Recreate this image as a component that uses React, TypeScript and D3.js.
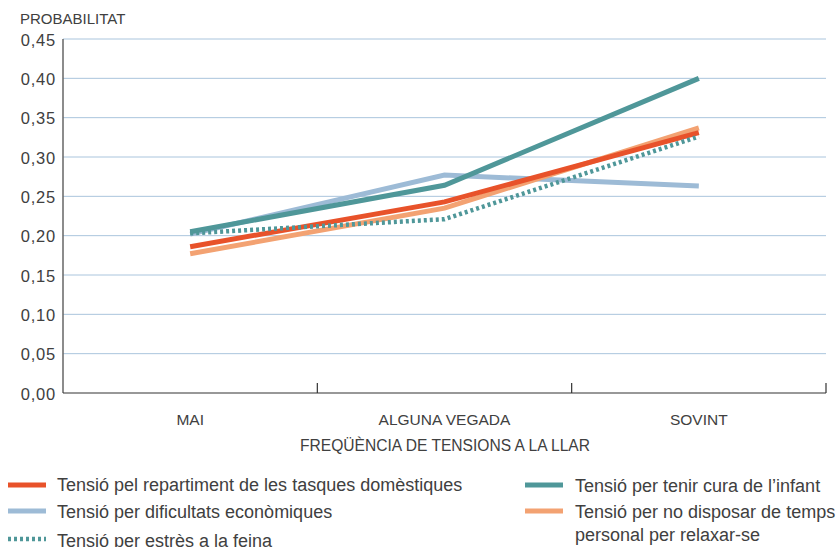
import React from "react";
import * as d3 from "d3";

const categories = ["MAI", "ALGUNA VEGADA", "SOVINT"];
const yTicks = [0, 0.05, 0.1, 0.15, 0.2, 0.25, 0.3, 0.35, 0.4, 0.45];

const seriesNames = [
  "Tensió per dificultats econòmiques",
  "Tensió per no disposar de temps personal per relaxar-se",
  "Tensió pel repartiment de les tasques domèstiques",
  "Tensió per estrès a la feina",
  "Tensió per tenir cura de l’infant",
];
const economiques = [0.202, 0.277, 0.263];
const tempsPersonal = [0.177, 0.235, 0.337];
const repartiment = [0.186, 0.243, 0.331];
const estres = [0.203, 0.221, 0.326];
const infant = [0.205, 0.264, 0.4];

const series = [
  { name: seriesNames[0], values: economiques, color: "#9dbbd6", dash: "" },
  { name: seriesNames[1], values: tempsPersonal, color: "#f3a272", dash: "" },
  { name: seriesNames[2], values: repartiment, color: "#e8522a", dash: "" },
  { name: seriesNames[3], values: estres, color: "#4f9799", dash: "3,3" },
  { name: seriesNames[4], values: infant, color: "#4f9799", dash: "" },
];

const W = 840;
const H = 547;
const left = 63;
const right = 826;
const top = 39;
const bottom = 393;
const FONT = "'Liberation Sans', Arial, sans-serif";
const TXT = "#404040";

export default function App() {
  const x = d3.scaleBand<string>().domain(categories).range([left, right]).paddingInner(0).paddingOuter(0);
  const y = d3.scaleLinear().domain([0, 0.45]).range([bottom, top]);
  const cx = (c: string) => (x(c) as number) + x.bandwidth() / 2;
  const line = d3
    .line<number>()
    .x((_, i) => cx(categories[i]))
    .y((d) => y(d));

  const legendLeft = [
    { s: series[2], lines: ["Tensió pel repartiment de les tasques domèstiques"], y: 485, by: [491] },
    { s: series[0], lines: ["Tensió per dificultats econòmiques"], y: 511, by: [517.5] },
    { s: series[3], lines: ["Tensió per estrès a la feina"], y: 539, by: [546.5] },
  ];
  const legendRight = [
    { s: series[4], lines: ["Tensió per tenir cura de l’infant"], y: 485, by: [491.5] },
    { s: series[1], lines: ["Tensió per no disposar de temps", "personal per relaxar-se"], y: 511, by: [518, 541] },
  ];

  const legendItem = (it: any, sx: number, tx: number, key: string) => (
    <g key={key}>
      <line
        x1={sx}
        x2={sx + 38}
        y1={it.y}
        y2={it.y}
        stroke={it.s.color}
        strokeWidth={it.s.dash ? 4.5 : 5}
        strokeDasharray={it.s.dash || undefined}
      />
      {it.lines.map((t: string, i: number) => (
        <text key={i} x={tx} y={it.by[i]} fontSize={18} fill={TXT} fontFamily={FONT}>
          {t}
        </text>
      ))}
    </g>
  );

  return (
    <svg width={W} height={H} style={{ position: "absolute", left: 0, top: 0, background: "#fff" }}>
      <text x={20} y={24} fontSize={15} fill={TXT} fontFamily={FONT}>
        PROBABILITAT
      </text>
      {yTicks.map((t) => (
        <g key={t}>
          {t > 0 && <line x1={left} x2={right} y1={y(t)} y2={y(t)} stroke="#aac5dd" strokeWidth={1} />}
          <text
            x={56}
            y={y(t) + 6.5}
            textAnchor="end"
            fontSize={16.5}
            letterSpacing={0.8}
            fill={TXT}
            fontFamily={FONT}
          >
            {t.toFixed(2).replace(".", ",")}
          </text>
        </g>
      ))}
      <line x1={left} x2={left} y1={top} y2={bottom} stroke="#666" strokeWidth={1.5} />
      <line x1={left} x2={right} y1={bottom} y2={bottom} stroke="#333" strokeWidth={1.2} />
      {[...categories.slice(1).map((c) => x(c) as number), right].map((tx, i) => (
        <line key={i} x1={tx} x2={tx} y1={bottom - 10} y2={bottom} stroke="#333" strokeWidth={1.2} />
      ))}
      {categories.map((c) => (
        <text key={c} x={cx(c)} y={424.5} textAnchor="middle" fontSize={15.5} fill={TXT} fontFamily={FONT}>
          {c}
        </text>
      ))}
      <text x={445} y={450.5} textAnchor="middle" fontSize={15.6} fill={TXT} fontFamily={FONT}>
        FREQÜÈNCIA DE TENSIONS A LA LLAR
      </text>
      {series.map((s) => (
        <path
          key={s.name}
          d={line(s.values) || ""}
          fill="none"
          stroke={s.color}
          strokeWidth={s.dash ? 4.5 : 5}
          strokeDasharray={s.dash || undefined}
        />
      ))}
      {legendLeft.map((it, i) => legendItem(it, 8, 57, "l" + i))}
      {legendRight.map((it, i) => legendItem(it, 525, 575, "r" + i))}
    </svg>
  );
}
